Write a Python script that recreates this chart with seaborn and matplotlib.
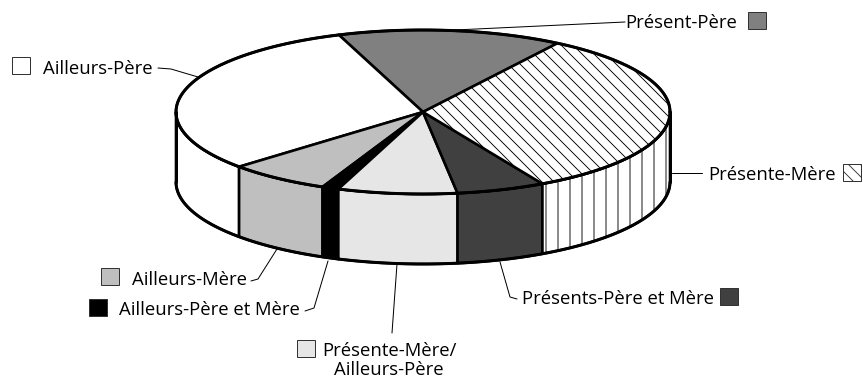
import numpy as np
import matplotlib
matplotlib.use("Agg")
import matplotlib.pyplot as plt
from matplotlib.patches import Polygon, Rectangle
import seaborn as sns

# Shares (%) of each living arrangement, counter-clockwise from the top right
labels = ["Présent-Père", "Ailleurs-Père", "Ailleurs-Mère", "Ailleurs-Père et Mère",
          "Présente-Mère/\nAilleurs-Père", "Présents-Père et Mère", "Présente-Mère"]
shares = [14.7, 31.1, 6.7, 1.1, 7.8, 5.8, 32.8]
colors = ["#808080", "#ffffff", "#bfbfbf", "#000000", "#e6e6e6", "#404040", "#ffffff"]
top_hatch = [None, None, None, None, None, None, "\\\\"]
side_hatch = [None, None, None, None, None, None, "|"]

sns.set_theme(style="white")
plt.rcParams["font.family"] = ["Open Sans", "DejaVu Sans"]
plt.rcParams["hatch.linewidth"] = 0.9

W, H, DPI = 863, 382, 72
fig = plt.figure(figsize=(W / DPI, H / DPI), dpi=DPI)
ax = fig.add_axes([0, 0, 1, 1])
ax.set_xlim(0, W)
ax.set_ylim(H, 0)
ax.axis("off")

# Tilted disc geometry (screen units)
cx, cy, rx, ry, depth = 423, 112, 247, 82, 70
start = 57.0


def ell(t, dy=0.0):
    r = np.radians(t)
    return np.column_stack([cx + rx * np.cos(r), cy - ry * np.sin(r) + dy])


bounds = start + np.concatenate([[0], np.cumsum(shares)]) * 3.6
lw = 2.6

# Side walls (only the front half of the disc is visible)
for i in range(len(shares)):
    a1, a2 = bounds[i], bounds[i + 1]
    for f1, f2 in [(180, 360), (540, 720)]:
        s1, s2 = max(a1, f1), min(a2, f2)
        if s2 <= s1:
            continue
        t = np.linspace(s1, s2, 120)
        pts = np.vstack([ell(t), ell(t[::-1], depth)])
        ax.add_patch(Polygon(pts, closed=True, facecolor=colors[i], edgecolor="black",
                             linewidth=lw, hatch=side_hatch[i], joinstyle="round"))

# Top face wedges
for i in range(len(shares)):
    t = np.linspace(bounds[i], bounds[i + 1], 200)
    pts = np.vstack([[cx, cy], ell(t)])
    ax.add_patch(Polygon(pts, closed=True, facecolor=colors[i], edgecolor="black",
                         linewidth=lw, hatch=top_hatch[i], joinstyle="round"))

# Outer outline
tt = np.linspace(0, 360, 400)
ax.plot(*ell(tt).T, color="black", lw=3.0, solid_capstyle="round")
tf = np.linspace(180, 360, 200)
ax.plot(*ell(tf, depth).T, color="black", lw=3.0, solid_capstyle="round")
ax.plot([cx - rx, cx - rx], [cy, cy + depth], color="black", lw=3.0)
ax.plot([cx + rx, cx + rx], [cy, cy + depth], color="black", lw=3.0)

# Labels: text anchor, alignment, key square (x, bottom y), leader polyline
fs = 18.5
sq = 17.5
label_specs = [
    (737, 28, "right", (748, 29), [(625, 22), (455, 30)]),
    (153, 74, "right", (12, 74), [(158, 68), (171, 69), (198, 77)]),
    (247, 285, "right", (101, 285), [(251, 281), (258, 279), (277, 249)]),
    (300, 315, "right", (89, 316), [(305, 311), (314, 308), (328, 261)]),
    (389, 375, "center", (297, 357), [(397, 264), (392, 333)]),
    (522, 304, "left", (720, 305), [(500, 262), (510, 297), (517, 299)]),
    (708, 180, "left", (843, 181), [(672, 173), (702, 173)]),
]

for i, (tx, ty, ha, (sx, sy), leader) in enumerate(label_specs):
    ax.text(tx, ty, labels[i], ha=ha, va="baseline", fontsize=fs, color="black",
            linespacing=1.1, multialignment="center")
    ax.add_patch(Rectangle((sx, sy - sq), sq, sq, facecolor=colors[i],
                           edgecolor="#333333", linewidth=1.0, hatch=top_hatch[i]))
    lx, ly = zip(*leader)
    ax.plot(lx, ly, color="black", lw=1.0)

fig.savefig("out.png", dpi=DPI, facecolor="white")
